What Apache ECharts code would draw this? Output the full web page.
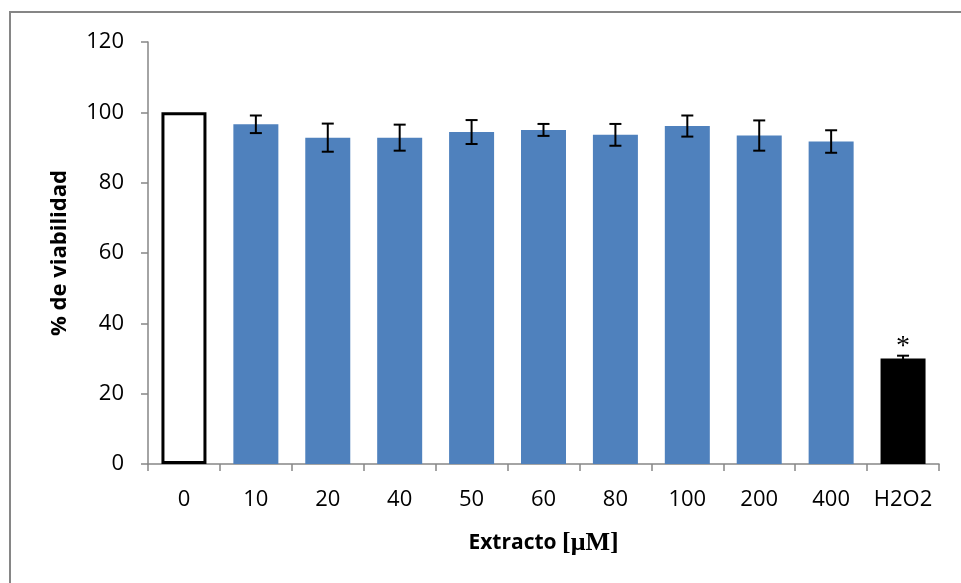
<!DOCTYPE html>
<html>
<head>
<meta charset="utf-8">
<script src="https://cdn.jsdelivr.net/npm/echarts@6/dist/echarts.min.js"></script>
<style>
  html, body { margin: 0; padding: 0; background: #fff; }
  #chart { width: 961px; height: 583px; }
</style>
</head>
<body>
<div id="chart"></div>
<script>
const categories = ['0', '10', '20', '40', '50', '60', '80', '100', '200', '400', 'H2O2'];
const viability = [100, 96.6, 92.8, 92.8, 94.4, 95.0, 93.6, 96.1, 93.4, 91.7, 30.0];
const errors = [0, 2.5, 4.0, 3.7, 3.4, 1.7, 3.1, 3.0, 4.3, 3.2, 0.8];
const yTicks = [0, 20, 40, 60, 80, 100, 120];

const chart = echarts.init(document.getElementById('chart'));

const barData = viability.map((v, i) => {
  if (i === 0) {
    return { value: v, itemStyle: { color: '#ffffff', borderColor: '#000000', borderWidth: 3 } };
  }
  if (i === categories.length - 1) {
    return {
      value: v,
      itemStyle: { color: '#000000' },
      label: {
        show: true, position: 'top', distance: 1, formatter: '*',
        fontFamily: 'Liberation Serif', fontSize: 28, color: '#000', lineHeight: 22
      }
    };
  }
  return { value: v };
});

const errData = viability.map((v, i) => [i, v - errors[i], v + errors[i], errors[i]]);

chart.setOption({
  animation: false,
  backgroundColor: '#ffffff',
  graphic: [{
    type: 'rect',
    shape: { x: 10, y: 12, width: 1000, height: 1000 },
    style: { fill: 'none', stroke: '#868686', lineWidth: 2 },
    silent: true
  }],
  grid: { left: 148, right: 22, top: 42, bottom: 119, containLabel: false },
  xAxis: {
    type: 'category',
    data: categories,
    axisLine: { lineStyle: { color: '#868686', width: 1.5 } },
    axisTick: { show: true, length: 7, alignWithLabel: false, lineStyle: { color: '#868686', width: 1.5 } },
    axisLabel: { color: '#000', fontFamily: 'Open Sans', fontSize: 22, margin: 25, interval: 0, hideOverlap: false },
    name: '{a|Extracto }{b|[μM]}',
    nameLocation: 'middle',
    nameGap: 66,
    nameTextStyle: {
      rich: {
        a: { fontFamily: 'Open Sans', fontWeight: 'bold', fontSize: 21, color: '#000' },
        b: { fontFamily: 'Liberation Serif', fontWeight: 'bold', fontSize: 26, color: '#000' }
      }
    }
  },
  yAxis: {
    type: 'value',
    min: 0, max: 120, interval: 20,
    splitLine: { show: false },
    axisLine: { show: true, lineStyle: { color: '#868686', width: 1.5 } },
    axisTick: { show: true, length: 7, lineStyle: { color: '#868686', width: 1.5 } },
    axisLabel: {
      color: '#000', fontFamily: 'Open Sans', fontSize: 22, margin: 24,
      formatter: v => yTicks.includes(v) ? String(v) : ''
    },
    name: '% de viabilidad',
    nameLocation: 'middle',
    nameGap: 77,
    nameTextStyle: { fontFamily: 'Open Sans', fontWeight: 'bold', fontSize: 22, color: '#000' }
  },
  series: [
    {
      type: 'bar',
      data: barData,
      barWidth: 45,
      itemStyle: { color: '#4F81BD' },
      z: 2
    },
    {
      type: 'custom',
      data: errData,
      z: 5,
      renderItem: function (params, api) {
        const x = api.value(0);
        if (api.value(3) === 0) return null;
        const lo = api.coord([x, api.value(1)]);
        const hi = api.coord([x, api.value(2)]);
        const hw = 6;
        const style = { stroke: '#000', lineWidth: 2, fill: 'none' };
        return {
          type: 'group',
          children: [
            { type: 'line', shape: { x1: hi[0], y1: hi[1], x2: lo[0], y2: lo[1] }, style },
            { type: 'line', shape: { x1: hi[0] - hw, y1: hi[1], x2: hi[0] + hw, y2: hi[1] }, style },
            { type: 'line', shape: { x1: lo[0] - hw, y1: lo[1], x2: lo[0] + hw, y2: lo[1] }, style }
          ]
        };
      }
    }
  ]
});
</script>
</body>
</html>
